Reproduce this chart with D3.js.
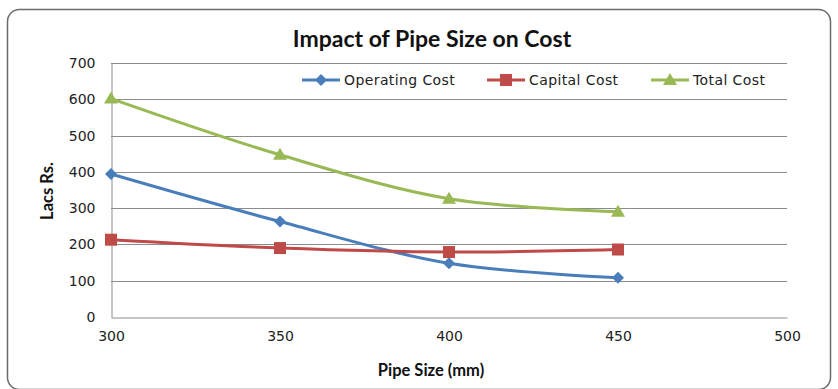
<!DOCTYPE html>
<html>
<head>
<meta charset="utf-8">
<script src="https://cdn.jsdelivr.net/npm/d3@7"></script>
<style>
  html, body { margin: 0; padding: 0; background: #fff; }
  svg { display: block; }
</style>
</head>
<body>
<svg id="chart" width="838" height="389"></svg>
<script>
// Pipe sizes (mm) and cost series (Lacs Rs.)
const pipeSizes = [300, 350, 400, 450];
const operatingCost = [394, 263, 148, 108];
const capitalCost = [213, 190, 179, 186];
const totalCost = [602, 447, 326, 290];

const xTicks = [300, 350, 400, 450, 500];
const yTicks = [0, 100, 200, 300, 400, 500, 600, 700];

const seriesNames = ["Operating Cost", "Capital Cost", "Total Cost"];
const seriesValues = [operatingCost, capitalCost, totalCost];
const seriesColors = ["#4A7EBB", "#BE4B48", "#98B954"];
const seriesMarkers = ["diamond", "square", "triangle"];

const svg = d3.select("#chart");
const W = 838, H = 389;
const margin = { left: 111, right: 51, top: 63, bottom: 72 };

// Outer chart frame
svg.append("rect")
  .attr("x", 7.5).attr("y", 9.5)
  .attr("width", 823).attr("height", 380)
  .attr("rx", 12).attr("ry", 12)
  .attr("fill", "#fff")
  .attr("stroke", "#6b6b6b").attr("stroke-width", 1.5);

const x = d3.scaleLinear().domain([300, 500]).range([margin.left, W - margin.right]);
const y = d3.scaleLinear().domain([0, 700]).range([H - margin.bottom, margin.top]);

// Horizontal gridlines
svg.append("g")
  .selectAll("line")
  .data(yTicks.filter(d => d > 0))
  .join("line")
  .attr("x1", x(300)).attr("x2", x(500))
  .attr("y1", d => Math.round(y(d)) + 0.5).attr("y2", d => Math.round(y(d)) + 0.5)
  .attr("stroke", "#8c8c8c").attr("stroke-width", 1);

// Axes
const yAxis = d3.axisLeft(y).tickValues(yTicks).tickSize(0).tickPadding(16);
const xAxis = d3.axisBottom(x).tickValues(xTicks).tickSize(0).tickPadding(14);

const gy = svg.append("g")
  .attr("transform", `translate(${Math.round(x(300)) + 0.5},0)`)
  .call(yAxis);
const gx = svg.append("g")
  .attr("transform", `translate(0,${Math.round(y(0)) + 0.5})`)
  .call(xAxis);

[gx, gy].forEach(g => {
  g.select(".domain").attr("stroke", "#8c8c8c").attr("stroke-width", 1);
  g.selectAll("text")
    .attr("font-family", "DejaVu Sans, Verdana, sans-serif")
    .attr("font-size", 14)
    .attr("fill", "#222");
});

// Title and axis titles
svg.append("text")
  .attr("x", 432).attr("y", 47)
  .attr("text-anchor", "middle")
  .attr("font-family", "Lato, 'Open Sans', sans-serif")
  .attr("font-weight", "bold")
  .attr("font-size", 23)
  .attr("fill", "#111")
  .text("Impact of Pipe Size on Cost");

svg.append("text")
  .attr("x", 431).attr("y", 376)
  .attr("text-anchor", "middle")
  .attr("font-family", "Lato, 'Open Sans', sans-serif")
  .attr("font-weight", "bold")
  .attr("font-size", 16.5)
  .attr("fill", "#111")
  .text("Pipe Size (mm)");

svg.append("text")
  .attr("transform", "translate(53,191) rotate(-90)")
  .attr("text-anchor", "middle")
  .attr("font-family", "Lato, 'Open Sans', sans-serif")
  .attr("font-weight", "bold")
  .attr("font-size", 16.5)
  .attr("fill", "#111")
  .text("Lacs Rs.");

// Marker shapes
function markerPath(kind) {
  if (kind === "diamond") return "M0,-6L6,0L0,6L-6,0Z";
  if (kind === "square") return "M-6,-6H6V6H-6Z";
  return "M0,-7L7,5H-7Z";
}

const line = d3.line()
  .x((d, i) => x(pipeSizes[i]))
  .y(d => y(d))
  .curve(d3.curveCatmullRom.alpha(0.5));

// Series lines and markers
seriesValues.forEach((vals, s) => {
  const g = svg.append("g");
  g.append("path")
    .attr("d", line(vals))
    .attr("fill", "none")
    .attr("stroke", seriesColors[s])
    .attr("stroke-width", 3)
    .attr("stroke-linejoin", "round");
  g.selectAll("path.m")
    .data(vals)
    .join("path")
    .attr("class", "m")
    .attr("transform", (d, i) => `translate(${x(pipeSizes[i])},${y(d)})`)
    .attr("d", markerPath(seriesMarkers[s]))
    .attr("fill", seriesColors[s]);
});

// Legend
const legendX = [302, 487, 651];
const legendY = 80;
seriesNames.forEach((name, s) => {
  const g = svg.append("g").attr("transform", `translate(${legendX[s]},${legendY})`);
  g.append("line")
    .attr("x1", 0).attr("x2", 38).attr("y1", 0).attr("y2", 0)
    .attr("stroke", seriesColors[s]).attr("stroke-width", 3);
  g.append("path")
    .attr("transform", "translate(19,0)")
    .attr("d", markerPath(seriesMarkers[s]))
    .attr("fill", seriesColors[s]);
  g.append("text")
    .attr("x", 42).attr("y", 5)
    .attr("font-family", "DejaVu Sans, Verdana, sans-serif")
    .attr("font-size", 14)
    .attr("letter-spacing", 0.4)
    .attr("fill", "#222")
    .text(name);
});
</script>
</body>
</html>
